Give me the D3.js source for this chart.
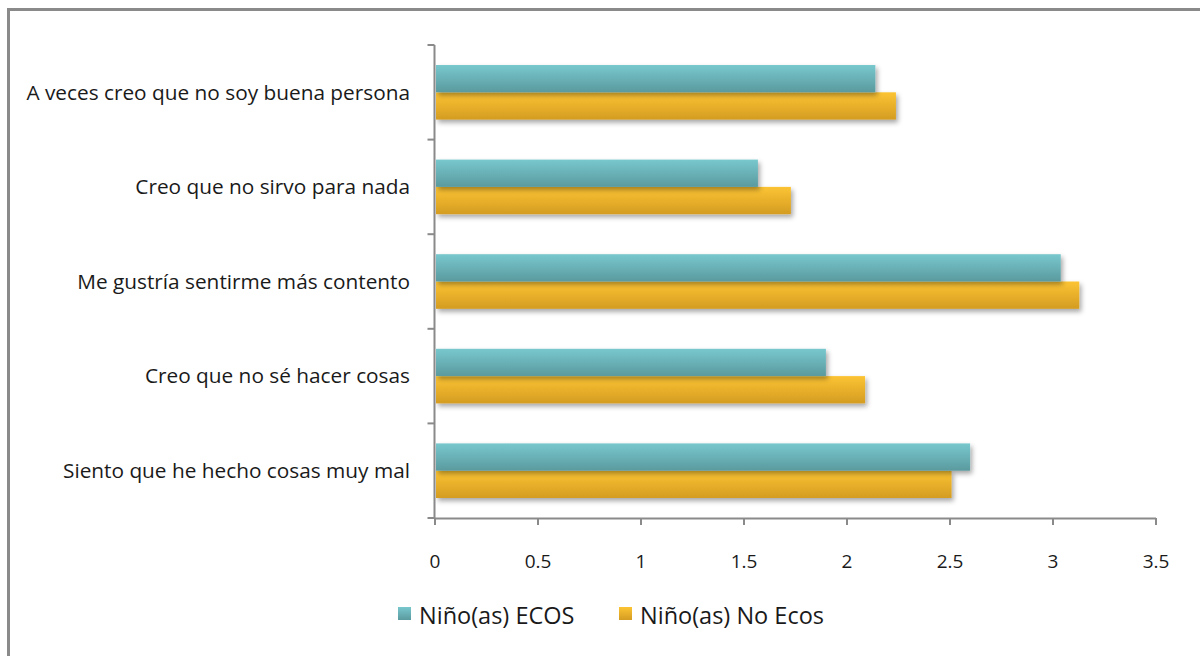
<!DOCTYPE html>
<head>
  <meta charset="utf-8">
  <script src="https://d3js.org/d3.v7.min.js"></script>
  <style>
    body { margin: 0; background: #fff; }
    text { font-family: "Open Sans", sans-serif; fill: #1a1a1a; }
    .axis path, .axis line { stroke: #8a8a8a; stroke-width: 2px; }
  </style>
</head>
<body>
  <svg id="chart" width="1200" height="656"></svg>
  <script>
    var categories = [
      "A veces creo que no soy buena persona",
      "Creo que no sirvo para nada",
      "Me gustría sentirme más contento",
      "Creo que no sé hacer cosas",
      "Siento que he hecho cosas muy mal"
    ];
    var seriesNames = ["Niño(as) ECOS", "Niño(as) No Ecos"];
    var ecos = [2.14, 1.57, 3.04, 1.90, 2.60];
    var noEcos = [2.24, 1.73, 3.13, 2.09, 2.51];
    var xTicks = [0, 0.5, 1, 1.5, 2, 2.5, 3, 3.5];

    var svg = d3.select("#chart");
    var margin = { top: 45, left: 434.5, right: 1155.5, bottom: 518 };

    var x = d3.scaleLinear().domain([0, 3.5]).range([margin.left, margin.right]);
    var y = d3.scaleBand().domain(categories).range([margin.top, margin.bottom]).paddingInner(0).paddingOuter(0);
    var inner = d3.scaleBand().domain([0, 1]).range([20, y.bandwidth() - 20]);

    var defs = svg.append("defs");
    function grad(id, c1, c2) {
      var g = defs.append("linearGradient").attr("id", id).attr("x1", 0).attr("y1", 0).attr("x2", 0).attr("y2", 1);
      g.append("stop").attr("offset", "0%").attr("stop-color", c1);
      g.append("stop").attr("offset", "100%").attr("stop-color", c2);
    }
    grad("gTeal", "#78c8ce", "#5a9a9e");
    grad("gGold", "#fcc433", "#d49c22");
    var f = defs.append("filter").attr("id", "shadow").attr("x", "-5%").attr("y", "-30%").attr("width", "115%").attr("height", "180%");
    f.append("feDropShadow").attr("dx", 2).attr("dy", 3).attr("stdDeviation", 2.5).attr("flood-color", "#000").attr("flood-opacity", 0.35);

    var colors = ["url(#gTeal)", "url(#gGold)"];

    // frame
    svg.append("path").attr("d", "M8.5,656 L8.5,9.5 L1200,9.5").attr("fill", "none").attr("stroke", "#8a8a8a").attr("stroke-width", 3);

    var rows = categories.map((c, i) => ({ cat: c, vals: [ecos[i], noEcos[i]] }));

    [1, 0].forEach(function (s) {
      svg.append("g").selectAll("rect")
        .data(rows)
        .join("rect")
        .attr("x", x(0) + 1.5)
        .attr("y", d => y(d.cat) + inner(s))
        .attr("width", d => x(d.vals[s]) - x(0) - 1.5)
        .attr("height", inner.bandwidth())
        .attr("fill", colors[s])
        .attr("filter", "url(#shadow)");
    });

    var yAxis = svg.append("g").attr("class", "axis")
      .attr("transform", "translate(" + margin.left + ",0)")
      .call(d3.axisLeft(y).tickSize(0).tickFormat(""));
    yAxis.select(".domain").attr("d", "M0," + margin.top + "V" + margin.bottom);
    yAxis.selectAll(".tick").remove();
    yAxis.selectAll(".sep")
      .data(d3.range(categories.length + 1))
      .join("line")
      .attr("x1", -7).attr("x2", 0)
      .attr("y1", i => margin.top + i * y.step())
      .attr("y2", i => margin.top + i * y.step());

    svg.append("g").selectAll("text")
      .data(categories)
      .join("text")
      .attr("x", 410)
      .attr("y", d => y(d) + y.bandwidth() / 2)
      .attr("dy", "0.35em")
      .attr("text-anchor", "end")
      .style("font-size", "20.8px")
      .text(d => d);

    var xAxis = svg.append("g").attr("class", "axis")
      .attr("transform", "translate(0," + margin.bottom + ")")
      .call(d3.axisBottom(x).tickValues(xTicks).tickSize(7).tickSizeOuter(0).tickPadding(30).tickFormat(d3.format("")));
    xAxis.selectAll("text").style("font-size", "19px").attr("fill", "#1a1a1a").attr("font-family", "\"Open Sans\", sans-serif");

    // legend
    var legend = svg.append("g").selectAll("g")
      .data(seriesNames)
      .join("g")
      .attr("transform", (d, i) => "translate(" + [398, 619][i] + ",607)");
    legend.append("rect").attr("width", 13).attr("height", 13).attr("fill", (d, i) => colors[i]);
    legend.append("text").attr("x", 21).attr("y", 9).attr("dy", "0.35em").style("font-size", "23.5px").text(d => d);
  </script>
</body>
